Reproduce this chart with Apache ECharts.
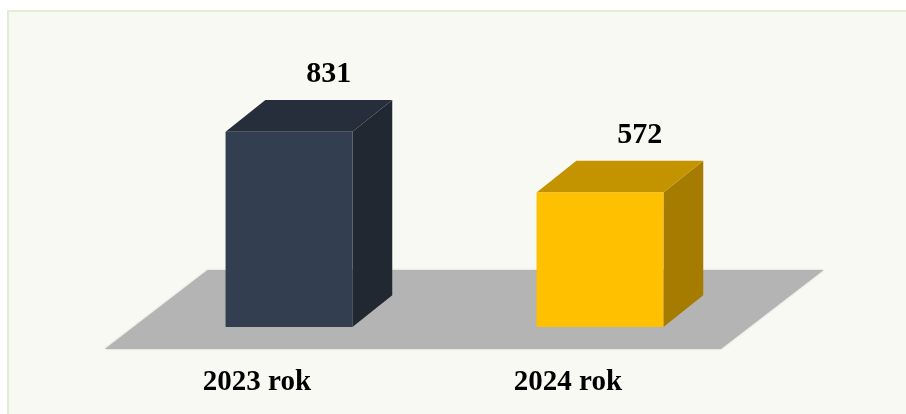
<!DOCTYPE html>
<html>
<head>
<meta charset="utf-8">
<script src="https://cdn.jsdelivr.net/npm/echarts@6/dist/echarts.min.js"></script>
<style>
  html, body { margin: 0; padding: 0; background: #ffffff; }
  #bg { position: absolute; left: 7px; top: 10px; width: 899px; height: 404px;
        background: #f9f9f4; border-left: 2px solid #e0eed6; border-top: 2px solid #e0eed6; box-sizing: border-box; }
  #chart { position: absolute; left: 0; top: 0; width: 906px; height: 414px; }
</style>
</head>
<body>
<div id="bg"></div>
<div id="chart"></div>
<script>
const categories = ['2023 rok', '2024 rok'];
const values = [831, 572];
const frontColors = ['#333e50', '#ffc000'];
const topColors = ['#262e3b', '#c49300'];
const sideColors = ['#212832', '#a67c00'];

const chart = echarts.init(document.getElementById('chart'), null, { renderer: 'canvas' });
const FONT = '"Liberation Serif", "Times New Roman", serif';

function renderFloor(params, api) {
  const cs = params.coordSys;
  const base = api.coord([0, 0])[1];
  const k = 1.3, front = 22, back = 57;
  const left = cs.x, right = cs.x + cs.width - 6;
  return {
    type: 'polygon',
    shape: { points: [
      [left - front * k, base + front],
      [right - front * k, base + front],
      [right + back * k, base - back],
      [left + back * k, base - back]
    ]},
    style: { fill: '#b4b4b4', shadowBlur: 2, shadowColor: 'rgba(180,180,180,0.8)' }
  };
}

function renderBar(params, api) {
  const idx = api.value(0), val = api.value(1);
  const top = api.coord([idx, val]);
  const base = api.coord([idx, 0]);
  const band = api.size([1, 0])[0];
  const w = band * 0.408;
  const dx = band * 0.128, dy = -band * 0.102;
  const x0 = top[0] - w / 2, x1 = top[0] + w / 2;
  const yT = top[1], yB = base[1];
  return {
    type: 'group',
    children: [
      { type: 'polygon', shape: { points: [[x1, yT], [x1 + dx, yT + dy], [x1 + dx, yB + dy], [x1, yB]] },
        style: { fill: sideColors[idx] } },
      { type: 'polygon', shape: { points: [[x0, yT], [x1, yT], [x1 + dx, yT + dy], [x0 + dx, yT + dy]] },
        style: { fill: topColors[idx] } },
      { type: 'rect', shape: { x: x0, y: yT, width: w, height: yB - yT },
        style: { fill: frontColors[idx] } },
      { type: 'text', x: top[0] + dx, y: yT + dy - 26,
        style: { text: String(val), font: 'bold 30px ' + FONT, fill: '#000', align: 'center', verticalAlign: 'middle' } },
      { type: 'text', x: top[0] - band * 0.103, y: yB + 56,
        style: { text: categories[idx], font: 'bold 29px ' + FONT, fill: '#000', align: 'center', verticalAlign: 'middle' } }
    ]
  };
}

chart.setOption({
  backgroundColor: 'transparent',
  animation: false,
  grid: { left: 133.5, right: 150.5, top: 92, bottom: 87 },
  xAxis: { type: 'category', data: categories, show: false },
  yAxis: { type: 'value', min: 0, max: 1000, show: false },
  series: [
    { type: 'custom', z: 1, data: [[0, 0]], renderItem: renderFloor },
    { type: 'custom', z: 2, data: values.map((v, i) => [i, v]), renderItem: renderBar }
  ]
});
</script>
</body>
</html>
